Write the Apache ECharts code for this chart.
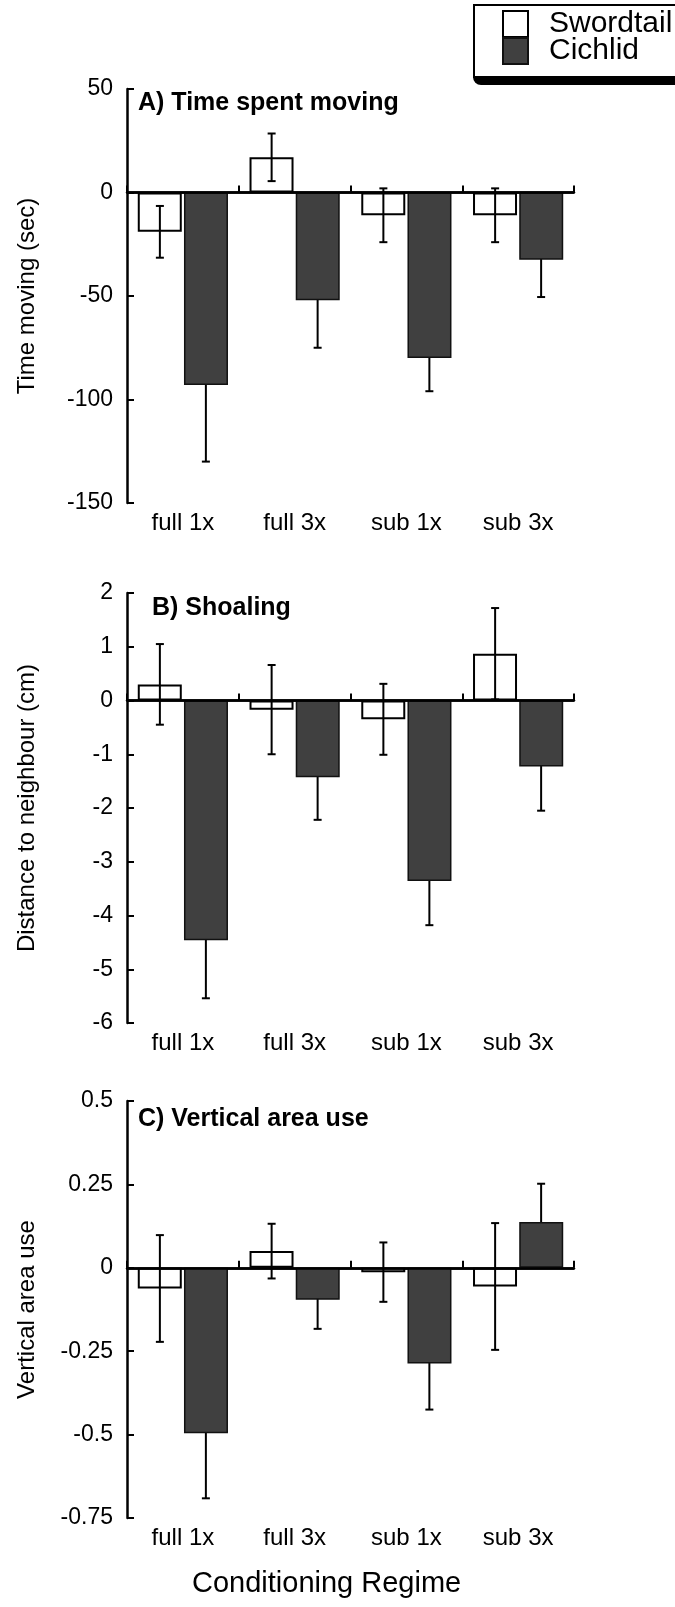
<!DOCTYPE html>
<html>
<head>
<meta charset="utf-8">
<script src="https://cdn.jsdelivr.net/npm/echarts@6/dist/echarts.min.js"></script>
<style>
  html, body { margin: 0; padding: 0; background: #fff; }
  #chart { width: 675px; height: 1607px; }
</style>
</head>
<body>
<div id="chart"></div>
<script>
const categories = ['full 1x', 'full 3x', 'sub 1x', 'sub 3x'];

// A) Time spent moving
const movingSword = [-19, 17, -11, -11];
const movingSwordErr = [12.5, 11.5, 13, 13];
const movingCichlid = [-93, -52, -80, -32.5];
const movingCichlidErr = [37, 23, 16, 18];

// B) Shoaling
const shoalSword = [0.3, -0.17, -0.35, 0.87];
const shoalSwordErr = [0.75, 0.83, 0.66, 0.85];
const shoalCichlid = [-4.46, -1.43, -3.36, -1.23];
const shoalCichlidErr = [1.08, 0.79, 0.82, 0.82];

// C) Vertical area use
const vertSword = [-0.062, 0.05, -0.013, -0.056];
const vertSwordErr = [0.16, 0.082, 0.089, 0.19];
const vertCichlid = [-0.496, -0.096, -0.287, 0.137];
const vertCichlidErr = [0.195, 0.087, 0.138, 0.115];

const panels = [
  { title: 'A) Time spent moving', yName: 'Time moving (sec)', min: -150, max: 50, interval: 50,
    sword: movingSword, swordErr: movingSwordErr, cichlid: movingCichlid, cichlidErr: movingCichlidErr },
  { title: 'B) Shoaling', yName: 'Distance to neighbour (cm)', min: -6, max: 2, interval: 1,
    sword: shoalSword, swordErr: shoalSwordErr, cichlid: shoalCichlid, cichlidErr: shoalCichlidErr },
  { title: 'C) Vertical area use', yName: 'Vertical area use', min: -0.75, max: 0.5, interval: 0.25,
    sword: vertSword, swordErr: vertSwordErr, cichlid: vertCichlid, cichlidErr: vertCichlidErr }
];

const FONT = '"Liberation Sans", Arial, Helvetica, sans-serif';
const grids = [
  { left: 127, top: 89, width: 447, height: 414 },
  { left: 127, top: 593, width: 447, height: 430 },
  { left: 127, top: 1101, width: 447, height: 417 }
];
const titlePos = [{ left: 138, top: 91 }, { left: 152, top: 596 }, { left: 138, top: 1107 }];
const BAR_W = 44;
const BAR_OFF = 23;

function errorSeries(name, gi, vals, errs, offset, z) {
  return {
    name: name,
    type: 'custom',
    xAxisIndex: gi,
    yAxisIndex: gi,
    z: z,
    silent: true,
    data: vals.map((v, i) => [i, v, errs[i]]),
    renderItem: function (params, api) {
      const i = api.value(0), v = api.value(1), e = api.value(2);
      const hi = api.coord([i, v + e]);
      const lo = api.coord([i, v - e]);
      const x = hi[0] + offset;
      const cap = 4;
      const st = { stroke: '#000', lineWidth: 2 };
      return {
        type: 'group',
        children: [
          { type: 'line', shape: { x1: x, y1: hi[1], x2: x, y2: lo[1] }, style: st },
          { type: 'line', shape: { x1: x - cap, y1: hi[1], x2: x + cap, y2: hi[1] }, style: st },
          { type: 'line', shape: { x1: x - cap, y1: lo[1], x2: x + cap, y2: lo[1] }, style: st }
        ]
      };
    }
  };
}

const series = [];
panels.forEach((p, gi) => {
  series.push({
    name: 'Swordtail', type: 'bar', xAxisIndex: gi, yAxisIndex: gi, z: 2,
    barWidth: BAR_W, barGap: '5%',
    itemStyle: { color: '#fff', borderColor: '#000', borderWidth: 2 },
    data: p.sword,
    markLine: {
      silent: true, symbol: 'none', z: 5,
      label: { show: false },
      lineStyle: { color: '#000', type: 'solid', width: 2.5 },
      data: [{ yAxis: 0 }]
    }
  });
  series.push({
    name: 'Cichlid', type: 'bar', xAxisIndex: gi, yAxisIndex: gi, z: 2,
    barWidth: BAR_W, barGap: '5%',
    itemStyle: { color: '#404040', borderColor: '#111', borderWidth: 1.5 },
    data: p.cichlid
  });
  series.push(errorSeries('swordErr' + gi, gi, p.sword, p.swordErr, -BAR_OFF, 4));
  series.push(errorSeries('cichlidErr' + gi, gi, p.cichlid, p.cichlidErr, BAR_OFF, 1));
});

const chart = echarts.init(document.getElementById('chart'), null, { renderer: 'canvas' });
chart.setOption({
  backgroundColor: '#fff',
  animation: false,
  textStyle: { fontFamily: FONT, color: '#000' },
  title: panels.map((p, gi) => ({
    text: p.title, left: titlePos[gi].left, top: titlePos[gi].top, padding: 0,
    textStyle: { fontSize: 25, fontWeight: 'bold', fontFamily: FONT, color: '#000' }
  })),
  legend: {
    data: ['Swordtail', 'Cichlid'],
    orient: 'vertical',
    left: 502, top: 9, z: 5,
    icon: 'rect',
    itemWidth: 25, itemHeight: 26, itemGap: -3,
    padding: 0,
    textStyle: { fontSize: 30, fontFamily: FONT, color: '#000', padding: [0, 0, 0, 16] }
  },
  graphic: [
    // legend frame with heavy bottom shadow
    { type: 'rect', z: 0, shape: { x: 473, y: 20, width: 260, height: 65, r: [0, 0, 0, 8] }, style: { fill: '#000' } },
    { type: 'rect', z: 1, shape: { x: 474, y: 5, width: 260, height: 72 }, style: { fill: '#fff', stroke: '#000', lineWidth: 2 } },
    { type: 'text', z: 10, left: 192, top: 1569,
      style: { text: 'Conditioning Regime', fontSize: 29, fontFamily: FONT, fill: '#000' } }
  ],
  grid: grids,
  xAxis: panels.map((p, gi) => ({
    type: 'category', gridIndex: gi, data: categories,
    axisLine: { lineStyle: { color: '#000', width: 2.5 } },
    axisTick: { show: true, inside: true, length: 7, lineStyle: { color: '#000', width: 2 } },
    axisLabel: { color: '#000', fontSize: 24, fontFamily: FONT, margin: 8 },
    splitLine: { show: false }
  })),
  yAxis: panels.map((p, gi) => ({
    type: 'value', gridIndex: gi, min: p.min, max: p.max, interval: p.interval,
    name: p.yName, nameLocation: 'middle', nameGap: 88,
    nameTextStyle: { fontSize: 24, fontFamily: FONT, color: '#000' },
    axisLine: { show: true, lineStyle: { color: '#000', width: 2.5 } },
    axisTick: { show: true, inside: true, length: 7, lineStyle: { color: '#000', width: 2 } },
    axisLabel: { color: '#000', fontSize: 23, fontFamily: FONT, margin: 14 },
    splitLine: { show: false }
  })),
  series: series
});
</script>
</body>
</html>
